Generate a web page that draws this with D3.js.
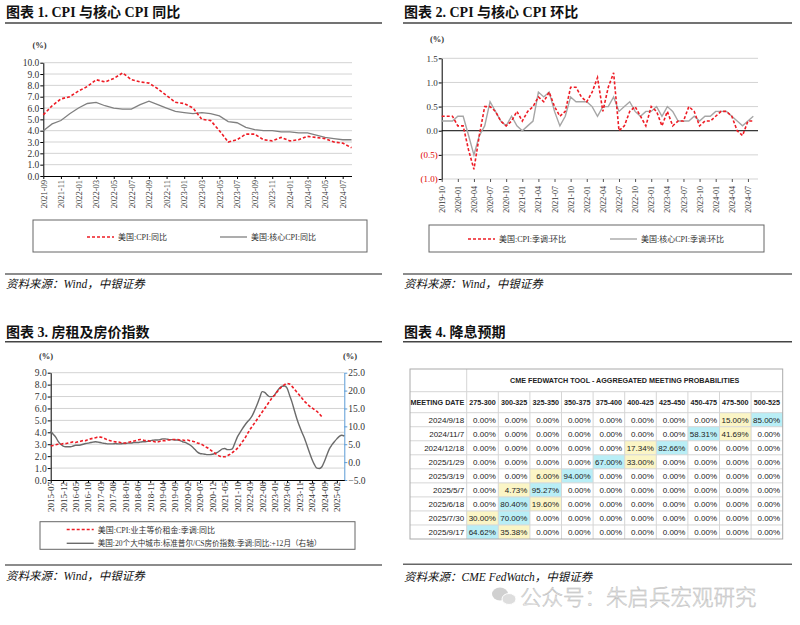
<!DOCTYPE html>
<html>
<head>
<meta charset="utf-8">
<script src="https://cdn.jsdelivr.net/npm/d3@7"></script>
<style>
  body { margin: 0; background: #fff; }
  svg { display: block; }
</style>
</head>
<body>
<svg id="page" width="800" height="625"></svg>
<script>
// ---------- data: chart 1 (CPI yoy) ----------
const cpiStart = "2021-09";
const cpiYoY = [5.4, 6.2, 6.8, 7.0, 7.5, 7.9, 8.5, 8.3, 8.6, 9.1, 8.5, 8.3, 8.2, 7.7, 7.1, 6.5, 6.4, 6.0,
    5.0, 4.9, 4.0, 3.0, 3.2, 3.7, 3.7, 3.2, 3.1, 3.4, 3.1, 3.2, 3.5, 3.4, 3.3, 3.0, 2.9, 2.5];
const coreYoY = [4.0, 4.6, 4.9, 5.5, 6.0, 6.4, 6.5, 6.2, 6.0, 5.9, 5.9, 6.3, 6.6, 6.3, 6.0, 5.7, 5.6, 5.5,
    5.6, 5.5, 5.3, 4.8, 4.7, 4.3, 4.1, 4.0, 4.0, 3.9, 3.9, 3.8, 3.8, 3.6, 3.4, 3.3, 3.2, 3.2];
const cpiTicks = ["2021-09", "2021-11", "2022-01", "2022-03", "2022-05", "2022-07", "2022-09", "2022-11",
    "2023-01", "2023-03", "2023-05", "2023-07", "2023-09", "2023-11", "2024-01", "2024-03", "2024-05", "2024-07"];
const cpiYTicks = [0, 1, 2, 3, 4, 5, 6, 7, 8, 9, 10];

// ---------- data: chart 2 (CPI mom) ----------
const momStart = "2019-10";
const cpiMoM = [0.3, 0.3, 0.3, 0.1, 0.1, -0.4, -0.8, -0.1, 0.5, 0.5, 0.4, 0.2, 0.1, 0.2, 0.4,
    0.2, 0.4, 0.5, 0.7, 0.6, 0.8, 0.5, 0.3, 0.4, 0.9, 0.9, 0.7,
    0.6, 0.8, 1.1, 0.4, 0.9, 1.2, 0.0, 0.1, 0.4, 0.5, 0.3, 0.1,
    0.5, 0.4, 0.1, 0.4, 0.1, 0.2, 0.2, 0.5, 0.4, 0.1, 0.2, 0.2,
    0.3, 0.4, 0.4, 0.3, 0.0, -0.1, 0.2, 0.2];
const coreMoM = [0.2, 0.2, 0.2, 0.3, 0.3, -0.1, -0.5, -0.1, 0.1, 0.6, 0.4, 0.2, 0.1, 0.3, 0.1,
    0.0, 0.1, 0.2, 0.8, 0.7, 0.8, 0.4, 0.1, 0.3, 0.7, 0.6, 0.6,
    0.6, 0.5, 0.3, 0.5, 0.5, 0.7, 0.4, 0.5, 0.6, 0.4, 0.3, 0.4,
    0.4, 0.5, 0.3, 0.5, 0.4, 0.2, 0.2, 0.2, 0.3, 0.2, 0.3, 0.3,
    0.4, 0.4, 0.4, 0.3, 0.2, 0.1, 0.2, 0.3];
const momTicks = ["2019-10", "2020-01", "2020-04", "2020-07", "2020-10", "2021-01", "2021-04", "2021-07",
    "2021-10", "2022-01", "2022-04", "2022-07", "2022-10", "2023-01", "2023-04", "2023-07", "2023-10",
    "2024-01", "2024-04", "2024-07"];
const momYTicks = [-1.0, -0.5, 0.0, 0.5, 1.0, 1.5];

// ---------- data: chart 3 (rent & house prices) ----------
const housingStart = "2015-07";
const oerYoY = [2.85, 2.9, 2.95, 3.0, 3.0, 3.05, 3.05, 3.1, 3.15, 3.2,
    3.15, 3.2, 3.25, 3.3, 3.3, 3.4, 3.45, 3.5, 3.55, 3.6,
    3.6, 3.55, 3.45, 3.35, 3.3, 3.25, 3.2, 3.2, 3.15, 3.1,
    3.1, 3.15, 3.2, 3.25, 3.3, 3.35, 3.4, 3.35, 3.3, 3.3,
    3.25, 3.25, 3.2, 3.2, 3.25, 3.3, 3.3, 3.35, 3.35, 3.4,
    3.4, 3.4, 3.35, 3.35, 3.3, 3.35, 3.3, 3.25, 3.2, 3.1,
    3.05, 2.95, 2.8, 2.7, 2.55, 2.4, 2.25, 2.1, 2.0, 1.95,
    1.95, 2.05, 2.15, 2.3, 2.45, 2.65, 2.9, 3.2, 3.5, 3.85,
    4.2, 4.5, 4.8, 5.1, 5.4, 5.7, 6.0, 6.3, 6.6, 6.9,
    7.1, 7.4, 7.65, 7.85, 8.0, 8.1, 8.05, 7.85, 7.6, 7.35,
    7.1, 6.85, 6.6, 6.4, 6.2, 6.05, 5.9, 5.75, 5.55, 5.3];
const csYoY = [8.7, 7.8, 7.0, 5.8, 5.0, 4.5, 4.3, 4.3, 4.3, 4.5,
    4.7, 4.7, 4.8, 5.0, 5.2, 5.3, 5.5, 5.6, 5.7, 5.6,
    5.5, 5.3, 5.2, 5.1, 5.1, 5.1, 5.2, 5.1, 5.1, 5.2,
    5.2, 5.3, 5.3, 5.4, 5.5, 5.5, 5.6, 5.7, 5.7, 5.8,
    6.0, 6.1, 6.2, 6.2, 6.3, 6.5, 6.5, 6.4, 6.3, 6.3,
    6.2, 6.2, 6.0, 5.7, 5.5, 5.2, 4.8, 4.2, 3.5, 2.8,
    2.4, 2.3, 2.2, 2.1, 2.1, 2.2, 2.4, 2.7, 3.2, 3.7,
    3.8, 3.5, 3.5, 3.7, 5.3, 7.0, 8.2, 9.3, 10.3, 11.2,
    12.0, 13.0, 14.5, 16.2, 18.0, 19.7, 19.5, 18.8, 18.3, 18.3,
    18.8, 19.8, 20.7, 21.2, 21.3, 20.7, 18.7, 16.7, 14.3, 12.0,
    10.0, 8.3, 6.7, 4.7, 2.7, 0.8, -0.7, -1.7, -1.8, -1.3,
    0.2, 2.0, 3.7, 4.8, 5.7, 6.5, 7.2, 7.5, 7.3];
const housingTicks = ["2015-07", "2015-12", "2016-05", "2016-10", "2017-03", "2017-08", "2018-01", "2018-06",
    "2018-11", "2019-04", "2019-09", "2020-02", "2020-07", "2020-12", "2021-05", "2021-10", "2022-03",
    "2022-08", "2023-01", "2023-06", "2023-11", "2024-04", "2024-09", "2025-02"];
const housingLeftTicks = [0, 1, 2, 3, 4, 5, 6, 7, 8, 9];
const housingRightTicks = [-5, 0, 5, 10, 15, 20, 25];

// ---------- data: chart 4 (FedWatch table) ----------
const meetingDates = ["2024/9/18", "2024/11/7", "2024/12/18", "2025/1/29", "2025/3/19",
    "2025/5/7", "2025/6/18", "2025/7/30", "2025/9/17"];
const rateRanges = ["275-300", "300-325", "325-350", "350-375", "375-400",
    "400-425", "425-450", "450-475", "475-500", "500-525"];
const probRows = [
    [0, 0, 0, 0, 0, 0, 0, 0, 15.00, 85.00],
    [0, 0, 0, 0, 0, 0, 0, 58.31, 41.69, 0],
    [0, 0, 0, 0, 0, 17.34, 82.66, 0, 0, 0],
    [0, 0, 0, 0, 67.00, 33.00, 0, 0, 0, 0],
    [0, 0, 6.00, 94.00, 0, 0, 0, 0, 0, 0],
    [0, 4.73, 95.27, 0, 0, 0, 0, 0, 0, 0],
    [0, 80.40, 19.60, 0, 0, 0, 0, 0, 0, 0],
    [30.00, 70.00, 0, 0, 0, 0, 0, 0, 0, 0],
    [64.62, 35.38, 0, 0, 0, 0, 0, 0, 0, 0]
];

// ---------- helpers ----------
const svg = d3.select("#page");
const RED = "#ee1c25";
const SERIF = "'Liberation Serif', 'Noto Sans CJK SC', serif";
const CJK = "'Liberation Serif', 'Noto Sans CJK SC', sans-serif";
const parseMonth = d3.timeParse("%Y-%m");
const fmtMonth = d3.timeFormat("%Y-%m");
const monthsFrom = (start, n) => {
    const s = parseMonth(start);
    return d3.timeMonth.range(s, d3.timeMonth.offset(s, n)).map(fmtMonth);
};
const f1 = d3.format(".1f");

// title, rules and source line of one panel
const frame = (x0, x1, titleY, title, ruleY, srcRuleY, srcY, src) => {
    svg.append("text")
        .attr("x", x0 + 1).attr("y", titleY)
        .attr("font-family", CJK).attr("font-size", 14).attr("font-weight", "bold")
        .attr("fill", "#111")
        .text(title);
    svg.append("line")
        .attr("x1", x0).attr("x2", x1).attr("y1", ruleY).attr("y2", ruleY)
        .attr("stroke", "#444").attr("stroke-width", 1.5);
    svg.append("line")
        .attr("x1", x0).attr("x2", x1).attr("y1", srcRuleY).attr("y2", srcRuleY)
        .attr("stroke", "#666").attr("stroke-width", 1.5);
    svg.append("text")
        .attr("x", x0 + 1).attr("y", srcY)
        .attr("font-family", CJK).attr("font-size", 11.5).attr("font-style", "italic")
        .attr("fill", "#111")
        .text(src);
};

// legend box with rows of {label, color, dash, width, x, y}
const legend = (box, items) => {
    svg.append("rect")
        .attr("x", box.x).attr("y", box.y).attr("width", box.w).attr("height", box.h)
        .attr("fill", "none").attr("stroke", "#666").attr("stroke-width", 1);
    items.forEach(it => {
        svg.append("line")
            .attr("x1", it.x).attr("x2", it.x + 27).attr("y1", it.y).attr("y2", it.y)
            .attr("stroke", it.color).attr("stroke-width", it.width)
            .attr("stroke-dasharray", it.dash || null);
        svg.append("text")
            .attr("x", it.x + 31).attr("y", it.y + 3)
            .attr("font-family", CJK).attr("font-size", it.size || 8)
            .attr("fill", "#333")
            .text(it.label);
    });
};

const styleAxis = (g, size) => {
    g.attr("font-family", SERIF).attr("font-size", size);
    g.select(".domain").attr("stroke", "#000");
    g.selectAll(".tick line").attr("stroke", "#000");
    g.selectAll(".tick text").attr("fill", "#333");
};

// rotate bottom labels to read upward, ending just below the axis
const rotateLabels = (g, offset) => {
    g.selectAll(".tick text")
        .attr("transform", "rotate(-90)")
        .attr("x", -offset).attr("y", 0).attr("dy", "0.32em")
        .style("text-anchor", "end");
};

const gridLines = (ticks, y, xa, xb) => {
    svg.append("g").selectAll("line").data(ticks).join("line")
        .attr("x1", xa).attr("x2", xb)
        .attr("y1", d => y(d)).attr("y2", d => y(d))
        .attr("stroke", "#d3d3d3").attr("stroke-width", 1);
};

// ================= chart 1 =================
frame(5, 382, 17, "图表 1. CPI 与核心 CPI 同比", 23, 274, 288, "资料来源：Wind，中银证券");
{
    const months = monthsFrom(cpiStart, cpiYoY.length);
    const x = d3.scalePoint().domain(months).range([43.3, 351.5]);
    const y = d3.scaleLinear().domain([0, 10]).range([176, 62.7]);

    gridLines(cpiYTicks.slice(1), y, 43.3, 352);

    svg.append("text").attr("x", 39.5).attr("y", 48)
        .attr("text-anchor", "middle").attr("font-family", SERIF).attr("font-size", 8.5)
        .attr("font-weight", "bold").attr("fill", "#333").text("(%)");

    const gy = svg.append("g").attr("transform", "translate(43.3,0)")
        .call(d3.axisLeft(y).tickValues(cpiYTicks).tickFormat(f1).tickSize(3).tickPadding(1).tickSizeOuter(0));
    styleAxis(gy, 9.5);

    const gx = svg.append("g").attr("transform", "translate(0,176)")
        .call(d3.axisBottom(x).tickValues(cpiTicks).tickSize(3).tickSizeOuter(0));
    styleAxis(gx, 8.5);
    rotateLabels(gx, 4);

    const line = d3.line().x((d, i) => x(months[i])).y(d => y(d));
    svg.append("path").datum(coreYoY).attr("d", line)
        .attr("fill", "none").attr("stroke", "#808080").attr("stroke-width", 1.3);
    svg.append("path").datum(cpiYoY).attr("d", line)
        .attr("fill", "none").attr("stroke", RED).attr("stroke-width", 1.6).attr("stroke-dasharray", "3,2");

    legend({ x: 33, y: 220, w: 334, h: 32 }, [
        { label: "美国:CPI:同比", color: RED, dash: "3,2", width: 1.6, x: 87, y: 237 },
        { label: "美国:核心CPI:同比", color: "#808080", width: 1.3, x: 220, y: 237 }
    ]);
}

// ================= chart 2 =================
frame(403, 792, 17, "图表 2. CPI 与核心 CPI 环比", 23, 274, 288, "资料来源：Wind，中银证券");
{
    const months = monthsFrom(momStart, cpiMoM.length);
    const x = d3.scalePoint().domain(months).range([441.7, 753.3]);
    const y = d3.scaleLinear().domain([-1, 1.5]).range([179, 58.3]);

    gridLines(momYTicks.filter(d => d !== 0), y, 441.7, 758);

    svg.append("text").attr("x", 437).attr("y", 42)
        .attr("text-anchor", "middle").attr("font-family", SERIF).attr("font-size", 8.5)
        .attr("font-weight", "bold").attr("fill", "#333").text("(%)");

    const fmt = d => d < 0 ? `(${f1(-d)})` : f1(d);
    const gy = svg.append("g").attr("transform", "translate(441.7,0)")
        .call(d3.axisLeft(y).tickValues(momYTicks).tickFormat(fmt).tickSize(3).tickPadding(1).tickSizeOuter(0));
    styleAxis(gy, 9);
    gy.selectAll(".tick text").attr("fill", d => d < 0 ? "#e00000" : "#333");

    // zero line
    svg.append("line").attr("x1", 441.7).attr("x2", 758).attr("y1", y(0)).attr("y2", y(0))
        .attr("stroke", "#000").attr("stroke-width", 1);

    const gx = svg.append("g").attr("transform", `translate(0,${y(-1)})`)
        .call(d3.axisBottom(x).tickValues(momTicks).tickSize(3).tickSizeOuter(0));
    styleAxis(gx, 8);
    gx.select(".domain").remove();
    gx.selectAll(".tick line").attr("stroke", "#555");
    rotateLabels(gx, 7);

    const line = d3.line().x((d, i) => x(months[i])).y(d => y(d));
    svg.append("path").datum(coreMoM).attr("d", line)
        .attr("fill", "none").attr("stroke", "#a6a6a6").attr("stroke-width", 1.4);
    svg.append("path").datum(cpiMoM).attr("d", line)
        .attr("fill", "none").attr("stroke", RED).attr("stroke-width", 1.6).attr("stroke-dasharray", "3,2");

    legend({ x: 429, y: 225, w: 335, h: 27 }, [
        { label: "美国:CPI:季调:环比", color: RED, dash: "3,2", width: 1.6, x: 468, y: 239 },
        { label: "美国:核心CPI:季调:环比", color: "#a6a6a6", width: 1.4, x: 610, y: 239 }
    ]);
}

// ================= chart 3 =================
frame(5, 382, 337, "图表 3. 房租及房价指数", 341.7, 565, 580, "资料来源：Wind，中银证券");
{
    const months = monthsFrom(housingStart, csYoY.length);
    const x = d3.scalePoint().domain(months).range([50.7, 344.3]);
    const yl = d3.scaleLinear().domain([0, 9]).range([480, 372.7]);
    const yr = d3.scaleLinear().domain([-5, 25]).range([480, 372.7]);

    gridLines(housingLeftTicks.slice(1), yl, 50.7, 344.3);

    svg.append("text").attr("x", 46).attr("y", 359)
        .attr("text-anchor", "middle").attr("font-family", SERIF).attr("font-size", 8.5)
        .attr("font-weight", "bold").attr("fill", "#333").text("(%)");
    svg.append("text").attr("x", 350).attr("y", 359)
        .attr("text-anchor", "middle").attr("font-family", SERIF).attr("font-size", 8.5)
        .attr("font-weight", "bold").attr("fill", "#333").text("(%)");

    const gy = svg.append("g").attr("transform", "translate(50.7,0)")
        .call(d3.axisLeft(yl).tickValues(housingLeftTicks).tickFormat(f1).tickSize(3).tickPadding(1).tickSizeOuter(0));
    styleAxis(gy, 9.5);

    const gr = svg.append("g").attr("transform", "translate(344.3,0)")
        .call(d3.axisRight(yr).tickValues(housingRightTicks).tickFormat(f1).tickSize(3).tickPadding(1).tickSizeOuter(0));
    styleAxis(gr, 9.5);
    gr.select(".domain").attr("stroke", "#5b9bd5");
    gr.selectAll(".tick line").attr("stroke", "#5b9bd5");

    const gx = svg.append("g").attr("transform", "translate(0,480)")
        .call(d3.axisBottom(x).tickValues(housingTicks).tickSize(3).tickSizeOuter(0));
    styleAxis(gx, 9);
    rotateLabels(gx, 2);

    const lineR = d3.line().curve(d3.curveMonotoneX).x((d, i) => x(months[i])).y(d => yr(d));
    const lineL = d3.line().curve(d3.curveMonotoneX).x((d, i) => x(months[i])).y(d => yl(d));
    svg.append("path").datum(csYoY).attr("d", lineR)
        .attr("fill", "none").attr("stroke", "#6b6b6b").attr("stroke-width", 1.4);
    svg.append("path").datum(oerYoY).attr("d", lineL)
        .attr("fill", "none").attr("stroke", RED).attr("stroke-width", 1.6).attr("stroke-dasharray", "3,2");

    legend({ x: 40, y: 521.7, w: 315, h: 27.6 }, [
        { label: "美国:CPI:业主等价租金:季调:同比", color: RED, dash: "3,2", width: 1.6, x: 66.7, y: 529.5 },
        { label: "美国:20个大中城市:标准普尔/CS房价指数:季调:同比:+12月（右轴）", color: "#6b6b6b",
            width: 1.4, x: 66.7, y: 543.3, size: 7.6 }
    ]);
}

// ================= chart 4 (table) =================
frame(403, 792, 337, "图表 4. 降息预期", 341.7, 564.3, 581, "资料来源：CME FedWatch，中银证券");
{
    const left = 410, right = 782.7, top = 369, head1 = 391.7, head2 = 412.7, bottom = 539, firstCol = 466.7;
    const col = d3.scaleBand().domain(rateRanges).range([firstCol, right]);
    const row = d3.scaleBand().domain(meetingDates).range([head2, bottom]);
    const SANS = "'Liberation Sans', Arial, sans-serif";
    const t = svg.append("g");

    t.append("rect").attr("x", left).attr("y", top).attr("width", right - left).attr("height", bottom - top)
        .attr("fill", "#fff");

    // highlighted cells: row max in blue, other non-zero in yellow
    const cells = [];
    probRows.forEach((vals, r) => {
        const mx = d3.max(vals);
        vals.forEach((v, c) => cells.push({ r, c, v, fill: v === mx ? "#b9eef6" : (v > 0 ? "#fbf5c6" : null) }));
    });
    t.append("g").selectAll("rect").data(cells.filter(d => d.fill)).join("rect")
        .attr("x", d => col(rateRanges[d.c])).attr("y", d => row(meetingDates[d.r]))
        .attr("width", col.bandwidth()).attr("height", row.bandwidth())
        .attr("fill", d => d.fill);

    // grid
    const hLines = [head1, head2].concat(meetingDates.slice(1).map(d => row(d)));
    t.append("g").selectAll("line").data(hLines).join("line")
        .attr("x1", left).attr("x2", right).attr("y1", d => d).attr("y2", d => d)
        .attr("stroke", "#d6d6d6");
    t.append("line").attr("x1", firstCol).attr("x2", firstCol).attr("y1", top).attr("y2", bottom)
        .attr("stroke", "#d6d6d6");
    t.append("g").selectAll("line").data(rateRanges.slice(1)).join("line")
        .attr("x1", d => col(d)).attr("x2", d => col(d)).attr("y1", head1).attr("y2", bottom)
        .attr("stroke", "#d6d6d6");
    t.append("rect").attr("x", left).attr("y", top).attr("width", right - left).attr("height", bottom - top)
        .attr("fill", "none").attr("stroke", "#aaa");

    // header texts
    t.append("text").attr("x", (firstCol + right) / 2).attr("y", (top + head1) / 2 + 2.6)
        .attr("text-anchor", "middle").attr("font-family", SANS).attr("font-size", 7.2)
        .attr("font-weight", "bold").attr("fill", "#222")
        .text("CME FEDWATCH TOOL - AGGREGATED MEETING PROBABILITIES");
    t.append("text").attr("x", firstCol - 2.5).attr("y", (head1 + head2) / 2 + 2.6)
        .attr("text-anchor", "end").attr("font-family", SANS).attr("font-size", 7.2)
        .attr("font-weight", "bold").attr("fill", "#222").text("MEETING DATE");
    t.append("g").selectAll("text").data(rateRanges).join("text")
        .attr("x", d => col(d) + col.bandwidth() / 2).attr("y", (head1 + head2) / 2 + 2.6)
        .attr("text-anchor", "middle").attr("font-family", SANS).attr("font-size", 7.2)
        .attr("font-weight", "bold").attr("fill", "#222").text(d => d);

    // body texts
    t.append("g").selectAll("text").data(meetingDates).join("text")
        .attr("x", firstCol - 2.5).attr("y", d => row(d) + row.bandwidth() / 2 + 2.9)
        .attr("text-anchor", "end").attr("font-family", SANS).attr("font-size", 8)
        .attr("fill", "#222").text(d => d);
    t.append("g").selectAll("text").data(cells).join("text")
        .attr("x", d => col(rateRanges[d.c]) + col.bandwidth() - 2.5)
        .attr("y", d => row(meetingDates[d.r]) + row.bandwidth() / 2 + 2.9)
        .attr("text-anchor", "end").attr("font-family", SANS).attr("font-size", 8)
        .attr("fill", "#222").text(d => d3.format(".2f")(d.v) + "%");

    // watermark
    const wm = svg.append("g").attr("opacity", 0.7);
    wm.append("ellipse").attr("cx", 500).attr("cy", 594).attr("rx", 8).attr("ry", 6.5).attr("fill", "#bdbdbd");
    wm.append("ellipse").attr("cx", 509).attr("cy", 599).attr("rx", 7).attr("ry", 5.5)
        .attr("fill", "#d0d0d0").attr("stroke", "#fff").attr("stroke-width", 1);
    wm.append("text").attr("x", 520).attr("y", 605)
        .attr("font-family", "'Noto Sans CJK SC', sans-serif").attr("font-size", 21.5)
        .attr("font-weight", 300)
        .attr("fill", "#e2e2e2").attr("stroke", "#9a9a9a").attr("stroke-width", 0.45)
        .text("公众号：朱启兵宏观研究");
}
</script>
</body>
</html>
